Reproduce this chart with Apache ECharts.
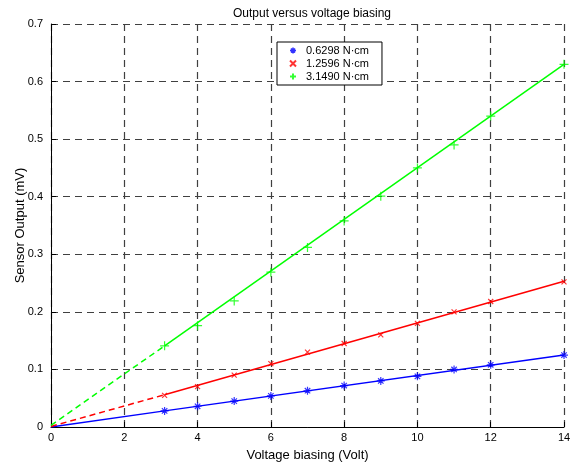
<!DOCTYPE html>
<html>
<head>
<meta charset="utf-8">
<script src="https://cdn.jsdelivr.net/npm/echarts@6/dist/echarts.min.js"></script>
<style>
  html, body { margin: 0; padding: 0; background: #fff; }
  #chart { width: 581px; height: 465px; }
</style>
</head>
<body>
<div id="chart"></div>
<script>
// Measured bias voltages (V) and sensor outputs (mV) for three applied torques
const voltage = [3.1, 4, 5, 6, 7, 8, 9, 10, 11, 12, 14];
const out06298 = [0.028, 0.036, 0.045, 0.054, 0.063, 0.072, 0.080, 0.088, 0.100, 0.108, 0.125];
const out12596 = [0.055, 0.070, 0.090, 0.110, 0.130, 0.145, 0.160, 0.180, 0.200, 0.218, 0.252];
const out31490 = [0.141, 0.176, 0.219, 0.269, 0.312, 0.358, 0.401, 0.450, 0.490, 0.540, 0.630];

// Linear fit lines: extrapolated part (0 → 3.1 V) and fitted part (3.1 → 14 V)
const fitX = [0, 3.1, 14];
const fit06298 = [0.000, 0.028, 0.125];
const fit12596 = [0.001, 0.056, 0.253];
const fit31490 = [0.003, 0.141, 0.630];

const seriesNames = ['0.6298 N\u00b7cm', '1.2596 N\u00b7cm', '3.1490 N\u00b7cm'];
const xTicks = [0, 2, 4, 6, 8, 10, 12, 14];
const yTicks = [0, 0.1, 0.2, 0.3, 0.4, 0.5, 0.6, 0.7];

const BLUE = '#0000ff', RED = '#ff0000', GREEN = '#00ff00';
const FONT = 'Liberation Sans, Arial, sans-serif';

const SYM_PLUS = 'path://M0,5L10,5M5,0L5,10';
const SYM_X = 'path://M0,0L10,10M10,0L0,10';
const SYM_STAR = 'path://M0,5L10,5M5,0L5,10M1.6,1.6L8.4,8.4M8.4,1.6L1.6,8.4';

function pairs(xs, ys) { return xs.map((x, i) => [x, ys[i]]); }

function fitSeries(ys, color, dashedStart) {
  return [{
    type: 'line', name: 'fitA', silent: true, symbol: 'none',
    data: [[fitX[0], ys[0]], [fitX[1], ys[1]]],
    lineStyle: { color: color, width: 1.5, type: dashedStart ? [6, 4] : 'solid' },
    z: 3
  }, {
    type: 'line', name: 'fitB', silent: true, symbol: 'none',
    data: [[fitX[1], ys[1]], [fitX[2], ys[2]]],
    lineStyle: { color: color, width: 1.5 },
    z: 3
  }];
}

function markerSeries(name, ys, color, sym, size) {
  return {
    type: 'scatter', name: name, symbol: sym, symbolSize: size,
    data: pairs(voltage, ys),
    itemStyle: { color: 'transparent', borderColor: color, borderWidth: 1.2 },
    z: 4
  };
}

const chart = echarts.init(document.getElementById('chart'), null, { renderer: 'canvas' });

const gridLine = { show: true, lineStyle: { color: '#404040', width: 1.2, type: [7, 5] } };

chart.setOption({
  animation: false,
  backgroundColor: '#ffffff',
  title: {
    text: 'Output versus voltage biasing',
    left: 307, top: 3, textAlign: 'center',
    textStyle: { fontFamily: FONT, fontSize: 12, fontWeight: 'normal', color: '#000' }
  },
  grid: { left: 51, right: 17, top: 24, bottom: 38, containLabel: false, outerBoundsMode: 'none' },
  legend: {
    data: [
      { name: seriesNames[0], itemStyle: { borderWidth: 1.5 } },
      { name: seriesNames[1] },
      { name: seriesNames[2] }
    ],
    orient: 'vertical',
    left: 277, top: 42,
    backgroundColor: '#fff',
    borderColor: '#000', borderWidth: 1, borderRadius: 0,
    padding: [3, 13, 3, 12],
    itemWidth: 16, itemHeight: 6, itemGap: 2,
    textStyle: { fontFamily: FONT, fontSize: 11, color: '#000' }
  },
  xAxis: {
    type: 'value', min: 0, max: 14, interval: 2,
    name: 'Voltage biasing (Volt)', nameLocation: 'middle', nameGap: 22,
    nameTextStyle: { fontFamily: FONT, fontSize: 13, color: '#000' },
    axisLine: { show: true, lineStyle: { color: '#000', width: 1 } },
    axisTick: { show: true, inside: true, length: 5, lineStyle: { color: '#000' } },
    axisLabel: { fontFamily: FONT, fontSize: 11, color: '#000', margin: 5,
      formatter: v => xTicks.indexOf(v) >= 0 ? String(v) : '' },
    splitLine: gridLine
  },
  yAxis: {
    type: 'value', min: 0, max: 0.7, interval: 0.1,
    name: 'Sensor Output (mV)', nameLocation: 'middle', nameGap: 24,
    nameMoveOverlap: false,
    nameTextStyle: { fontFamily: FONT, fontSize: 13, color: '#000' },
    axisLine: { show: true, lineStyle: { color: '#000', width: 1 } },
    axisTick: { show: true, inside: true, length: 5, lineStyle: { color: '#000' } },
    axisLabel: { fontFamily: FONT, fontSize: 11, color: '#000', margin: 8,
      formatter: v => { const t = yTicks.find(y => Math.abs(y - v) < 1e-9); return t === undefined ? '' : String(t); } },
    splitLine: gridLine
  },
  series: [
    ...fitSeries(fit06298, BLUE, false),
    ...fitSeries(fit12596, RED, true),
    ...fitSeries(fit31490, GREEN, true),
    markerSeries(seriesNames[0], out06298, BLUE, SYM_STAR, 8),
    markerSeries(seriesNames[1], out12596, RED, SYM_X, 5),
    markerSeries(seriesNames[2], out31490, GREEN, SYM_PLUS, 9)
  ]
});
</script>
</body>
</html>
